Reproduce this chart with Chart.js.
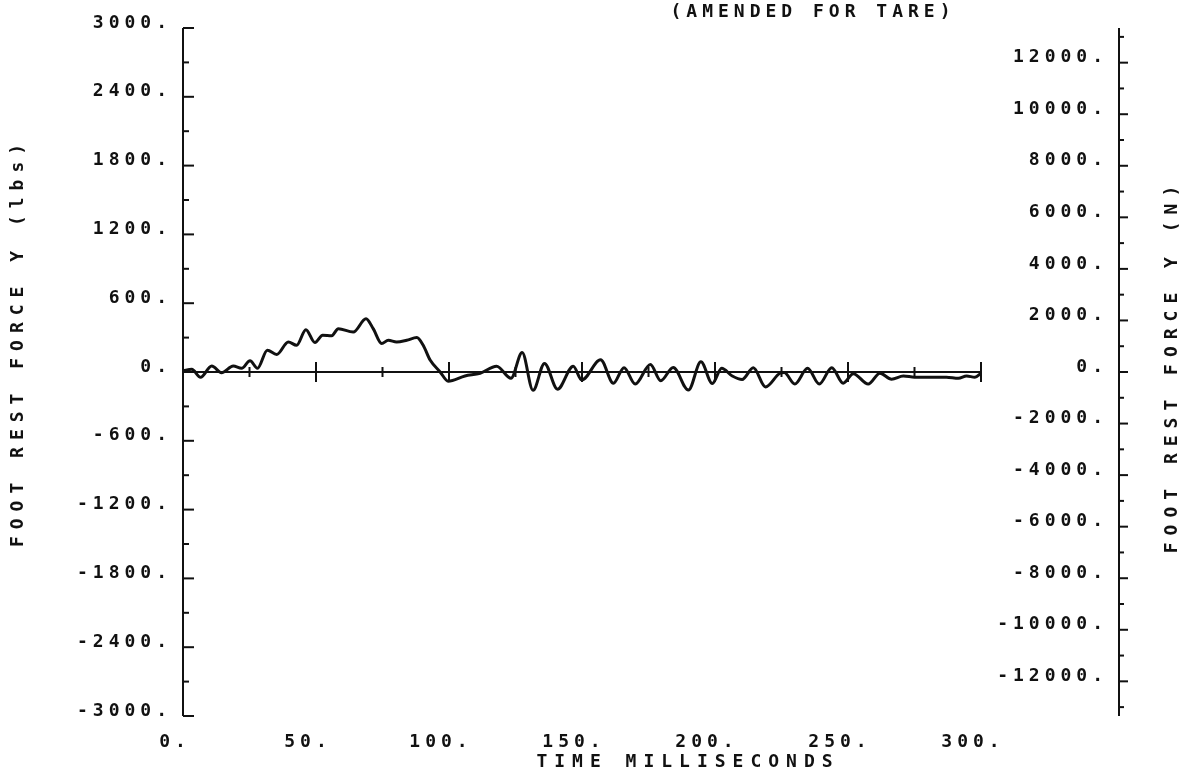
<!DOCTYPE html>
<html><head><meta charset="utf-8">
<script src="https://cdn.jsdelivr.net/npm/chart.js@4/dist/chart.umd.min.js"></script>
<style>html,body{margin:0;padding:0;background:#fff;}canvas{display:block;}</style>
</head><body>
<canvas id="c" width="1189" height="777"></canvas>
<script>
// ---- data ----
const timeMs = [0, 3.3, 6.6, 10.8, 14.5, 18.9, 22, 25.2, 28, 31.7, 35.2, 39.6, 42.7, 46.2, 49.6, 52.5, 55.9, 58.4, 64, 68.8, 71.5, 74.7, 77.2, 80.3, 84.1, 87.9, 90.3, 92.9, 96.6, 99.7, 106, 111.7, 117.9, 123.3, 127.5, 131.6, 135.9, 140.8, 146.7, 149.9, 157, 161.8, 165.8, 170, 175.7, 179.6, 184.3, 190, 194.7, 199, 202.5, 206.5, 210.2, 214.4, 219, 224.4, 226, 230, 234.8, 239.2, 243.9, 248.2, 252, 257.6, 262, 266.4, 270.8, 275, 280, 287, 291.5, 294.6, 297.7, 300];
const forceLbs = [10, 23, -46, 52, -6, 52, 32, 98, 32, 190, 153, 262, 233, 369, 257, 320, 317, 378, 348, 464, 378, 248, 277, 262, 277, 300, 233, 104, 3, -80, -35, -11, 50, -55, 170, -160, 75, -150, 50, -70, 107, -98, 38, -105, 65, -76, 40, -158, 89, -100, 32, -35, -65, 37, -130, -11, -5, -105, 32, -105, 37, -98, -15, -105, -11, -63, -35, -45, -46, -46, -55, -35, -46, -11];
const leftTicks = [-3000, -2400, -1800, -1200, -600, 0, 600, 1200, 1800, 2400, 3000];
const rightTicks = [-12000, -10000, -8000, -6000, -4000, -2000, 0, 2000, 4000, 6000, 8000, 10000, 12000];
const xTicks = [0, 50, 100, 150, 200, 250, 300];
const chartTitle = '(AMENDED FOR TARE)';
const xTitle = 'TIME MILLISECONDS';
const yLeftTitle = 'FOOT REST FORCE Y (lbs)';
const yRightTitle = 'FOOT REST FORCE Y (N)';
const LBS_TO_N = 4.44822;

const INK = '#111';
const FONT = 'DejaVu Sans Mono';
const WEIGHT = 'bold';
const SPACING = '5px';
const TITLE_SPACING = '7px';

const plotterAxes = {
  id: 'plotterAxes',
  beforeUpdate(chart) { chart.ctx.letterSpacing = SPACING; },
  beforeDraw(chart) {
    const ctx = chart.ctx;
    ctx.save();
    ctx.fillStyle = '#fff';
    ctx.fillRect(0, 0, chart.width, chart.height);
    ctx.restore();
    ctx.letterSpacing = SPACING;
  },
  beforeDatasetsDraw(chart) {
    const { ctx, chartArea: a, scales: { x, y, y2 } } = chart;
    const seg = (x1, y1, x2, y2_) => { ctx.beginPath(); ctx.moveTo(x1, y1); ctx.lineTo(x2, y2_); ctx.stroke(); };
    ctx.save();
    ctx.strokeStyle = INK;
    ctx.lineWidth = 2;
    // left axis with inward ticks
    const lx = x.getPixelForValue(x.min);
    seg(lx, y.getPixelForValue(y.max), lx, y.getPixelForValue(y.min));
    for (let v = y.min; v <= y.max; v += 300) {
      const py = y.getPixelForValue(v);
      seg(lx, py, lx + (v % 600 === 0 ? 11 : 6), py);
    }
    // time axis along zero, ticks crossing it
    const zy = y.getPixelForValue(0);
    seg(lx, zy, x.getPixelForValue(x.max), zy);
    for (let t = 25; t <= x.max; t += 25) {
      const px = x.getPixelForValue(t);
      const h = t % 50 === 0 ? 10 : 5;
      seg(px, zy - h, px, zy + h);
    }
    // right axis (N)
    const rx = a.right + 138;
    seg(rx, y2.getPixelForValue(y2.max), rx, y2.getPixelForValue(y2.min));
    for (let v = -13000; v <= 13000; v += 1000) {
      const py = y2.getPixelForValue(v);
      seg(rx, py, rx + (v % 2000 === 0 ? 9 : 5), py);
    }
    ctx.restore();
  },
  afterDraw(chart) {
    const ctx = chart.ctx;
    ctx.save();
    ctx.fillStyle = INK;
    ctx.font = WEIGHT + ' 18px "' + FONT + '"';
    ctx.textBaseline = 'middle';
    ctx.textAlign = 'center';
    ctx.letterSpacing = SPACING;
    ctx.fillText(chartTitle, 813, 12);
    ctx.letterSpacing = TITLE_SPACING;
    ctx.fillText(xTitle, 688, 762);
    const vText = (text, cx, cy) => {
      ctx.save(); ctx.translate(cx, cy); ctx.rotate(-Math.PI / 2);
      ctx.fillText(text, 0, 0); ctx.restore();
    };
    vText(yLeftTitle, 18, 342);
    vText(yRightTitle, 1172, 366);
    ctx.restore();
  }
};

const tickFont = { family: FONT, size: 18, weight: WEIGHT };

new Chart(document.getElementById('c'), {
  type: 'line',
  data: {
    datasets: [{
      data: timeMs.map((t, i) => ({ x: t, y: forceLbs[i] })),
      borderColor: INK,
      borderWidth: 3,
      pointRadius: 0,
      fill: false,
      cubicInterpolationMode: 'monotone',
      yAxisID: 'y'
    }]
  },
  options: {
    responsive: false,
    animation: false,
    devicePixelRatio: 1,
    layout: { padding: { top: 28, left: 0, right: 81, bottom: 0 } },
    plugins: { legend: { display: false }, tooltip: { enabled: false }, title: { display: false } },
    scales: {
      x: {
        type: 'linear', position: 'bottom', min: 0, max: 300,
        afterBuildTicks: s => { s.ticks = xTicks.map(v => ({ value: v })); },
        afterFit: s => { s.height = 61; },
        grid: { display: false, drawTicks: false },
        border: { display: false },
        ticks: { font: tickFont, color: INK, padding: 16, labelOffset: -8, maxRotation: 0, autoSkip: false, callback: v => v + '.' },
        title: { display: false, text: xTitle }
      },
      y: {
        type: 'linear', position: 'left', min: -3000, max: 3000,
        afterBuildTicks: s => { s.ticks = leftTicks.map(v => ({ value: v })); },
        afterFit: s => { s.width = 183; },
        grid: { display: false, drawTicks: false },
        border: { display: false },
        ticks: { font: tickFont, color: INK, padding: 11, labelOffset: -5, autoSkip: false, callback: v => v + '.' },
        title: { display: false, text: yLeftTitle }
      },
      y2: {
        type: 'linear', position: 'right', min: -3000 * LBS_TO_N, max: 3000 * LBS_TO_N,
        afterBuildTicks: s => { s.ticks = rightTicks.map(v => ({ value: v })); },
        afterFit: s => { s.width = 127; },
        grid: { display: false, drawTicks: false },
        border: { display: false },
        ticks: { font: tickFont, color: INK, padding: 10, labelOffset: -5, crossAlign: 'far', autoSkip: false, callback: v => v + '.' },
        title: { display: false, text: yRightTitle }
      }
    }
  },
  plugins: [plotterAxes]
});
</script>
</body></html>
